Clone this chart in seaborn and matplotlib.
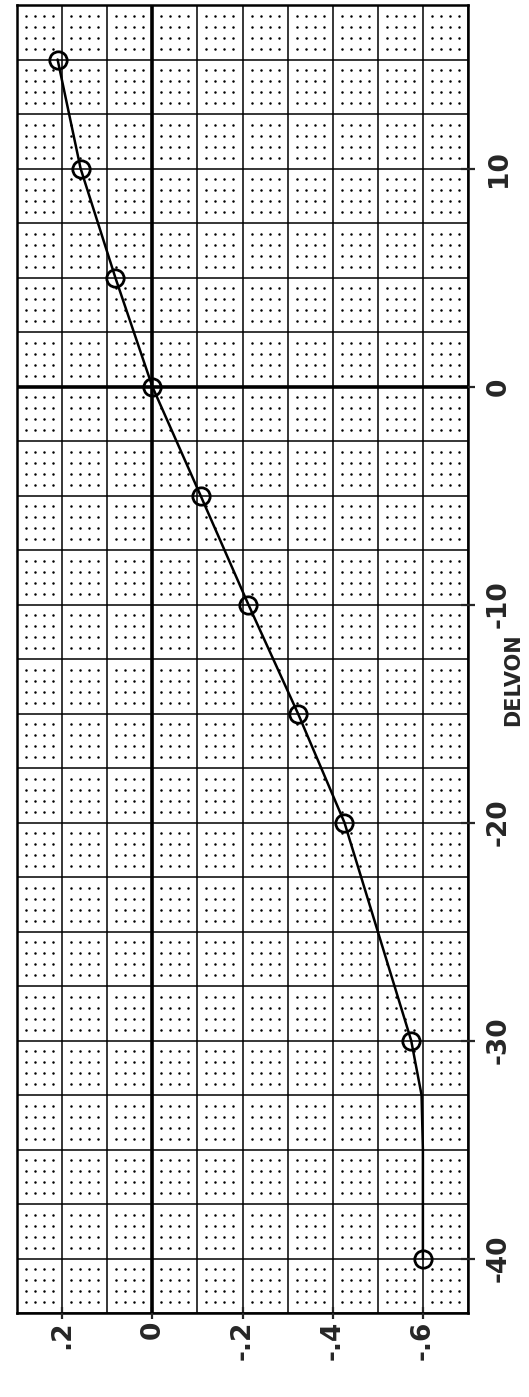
import numpy as np
import pandas as pd
import seaborn as sns
import matplotlib
matplotlib.use('Agg')
import matplotlib.pyplot as plt
from matplotlib.ticker import FixedLocator, MultipleLocator

# values (DELVON vs coefficient)
delvon = [-40, -30, -20, -15, -10, -5, 0, 5, 10, 15]
coef = [-0.600, -0.574, -0.426, -0.323, -0.213, -0.107, 0.0, 0.082, 0.159, 0.210]

curve_delvon = [-40, -37.5, -35, -32.5, -30, -20, -15, -10, -5, 0, 5, 10, 15]
curve_coef = [-0.600, -0.600, -0.600, -0.597, -0.574, -0.426, -0.323, -0.213,
              -0.107, 0.0, 0.082, 0.159, 0.210]

xticks = [0.2, 0.0, -0.2, -0.4, -0.6]
xticklabels = ['.2', '0', '-.2', '-.4', '-.6']
yticks = [-40, -30, -20, -10, 0, 10]
yticklabels = ['-40', '-30', '-20', '-10', '0', '10']

sns.set_style('white')
plt.rcParams['font.family'] = ['DejaVu Sans']

fig = plt.figure(figsize=(5.29, 13.97), dpi=100)
ax = fig.add_axes([17/529, 1-1313/1397, (468-17)/529, (1313-5)/1397])

# dotted background lattice (4x4 dots in every cell)
gx = [v for v in np.round(np.arange(-0.7, 0.3001, 0.02), 3) if abs(round(v*10) - v*10) > 1e-6]
gy = [v for v in np.arange(-42.5, 17.51, 0.5) if abs(v/2.5 - round(v/2.5)) > 1e-6]
GX, GY = np.meshgrid(gx, gy)
ax.scatter(GX.ravel(), GY.ravel(), s=3.2, c='black', linewidths=0, zorder=1)

ax.set_xlim(0.3, -0.7)
ax.set_ylim(-42.5, 17.5)

ax.xaxis.set_major_locator(FixedLocator(xticks))
ax.xaxis.set_minor_locator(MultipleLocator(0.1))
ax.yaxis.set_major_locator(FixedLocator(yticks))
ax.yaxis.set_minor_locator(MultipleLocator(2.5))
ax.grid(True, which='both', color='black', linewidth=1.1, zorder=2)
ax.set_axisbelow(False)

ax.axvline(0, color='black', linewidth=2.6, zorder=3)
ax.axhline(0, color='black', linewidth=2.6, zorder=3)

df_curve = pd.DataFrame({'coef': curve_coef, 'delvon': curve_delvon})
df_pts = pd.DataFrame({'coef': coef, 'delvon': delvon})
sns.lineplot(data=df_curve, x='coef', y='delvon', sort=False, estimator=None,
             color='black', linewidth=1.8, ax=ax, zorder=4)
ax.plot(df_pts['coef'], df_pts['delvon'], linestyle='none', marker='o',
        markersize=12.5, markerfacecolor='none', markeredgecolor='black',
        markeredgewidth=2.0, zorder=5)

ax.yaxis.tick_right()
ax.set_xticklabels(xticklabels, rotation=90, fontsize=19, fontweight='bold')
ax.set_yticklabels(yticklabels, rotation=90, fontsize=19, fontweight='bold',
                   va='center')
ax.tick_params(axis='x', which='major', direction='inout', length=9, width=1.6,
               pad=1, bottom=True, top=False)
ax.tick_params(axis='y', which='major', direction='inout', length=10, width=1.6,
               pad=8, right=True, left=False)
ax.tick_params(which='minor', length=0)
ax.set_xlabel('')
ax.set_ylabel('')

for s in ax.spines.values():
    s.set_visible(True)
    s.set_color('black')
    s.set_linewidth(1.8)

fig.text(513/529, 1-680/1397, 'DELVON', rotation=90, ha='center', va='center',
         fontsize=15, fontweight='bold')

fig.savefig('out.png', dpi=100)
